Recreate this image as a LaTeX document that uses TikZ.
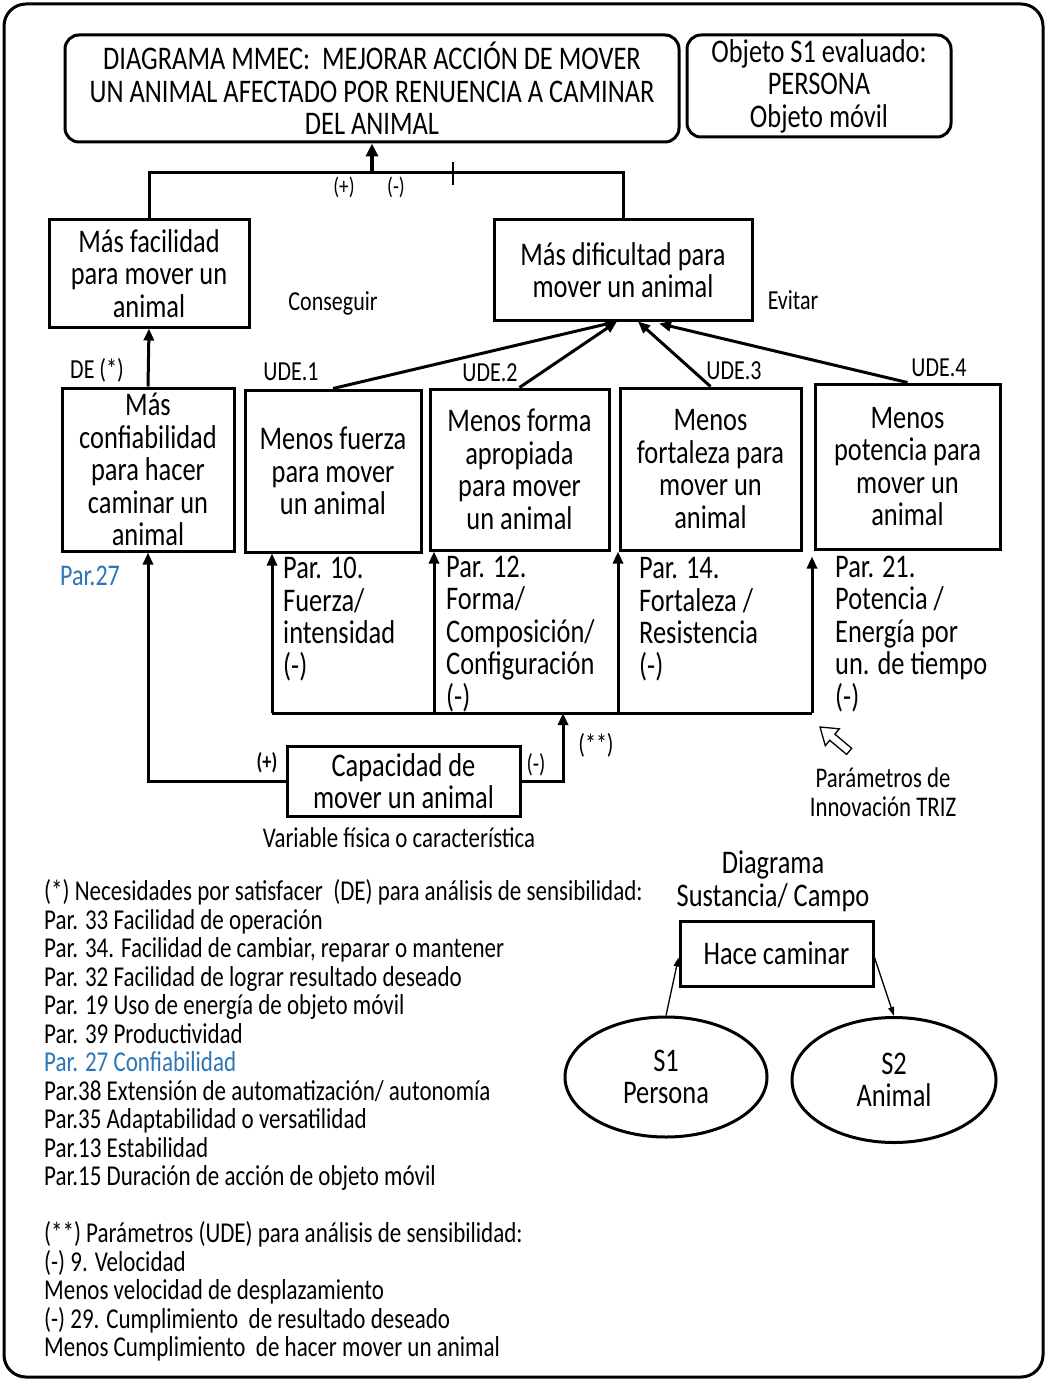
\documentclass[tikz,border=0pt]{standalone}
\usepackage{fontspec}
\setmainfont{Carlito}[FakeStretch=0.8]
\usetikzlibrary{arrows.meta, shapes.geometric, positioning}
\definecolor{color_azul}{RGB}{46,117,182}

\begin{document}
\begin{tikzpicture}[x=1pt, y=-1pt,
  caja/.style={draw, line width=3pt, align=center, inner sep=0pt,
    font=\fontsize{33}{32.5}\selectfont},
  cajaredonda/.style={caja, rounded corners=14pt},
  etiqueta/.style={inner sep=0pt, font=\fontsize{27.5}{28.5}\selectfont},
  signo/.style={inner sep=0pt, font=\fontsize{24}{24}\selectfont},
  parametro/.style={inner sep=0pt, align=left, anchor=west,
    font=\fontsize{33}{32.5}\selectfont},
  nota/.style={inner sep=0pt, align=left, anchor=west,
    font=\fontsize{28.75}{28.5}\selectfont},
  linea/.style={line width=3pt},
  flecha/.style={line width=3pt, -{Triangle[length=12pt,width=10pt]}},
  flechagruesa/.style={line width=4pt, -{Triangle[length=13pt,width=12pt]}},
  flechafina/.style={line width=1.3pt, -{Triangle[length=9pt,width=6pt]}}]

  \useasboundingbox[fill=white] (0,0) rectangle (1047,1380);
  \draw[line width=3pt, rounded corners=22pt] (4,4) rectangle (1043,1377);

  % OBJETIVO
  \node[cajaredonda, minimum width=614pt, minimum height=107pt] (titulo) at (372,88.5)
    {DIAGRAMA MMEC:~ MEJORAR ACCIÓN DE MOVER\\UN ANIMAL AFECTADO POR RENUENCIA A CAMINAR\\DEL ANIMAL};
  \node[cajaredonda, minimum width=264pt, minimum height=102pt] (objeto) at (819,86)
    {Objeto S1 evaluado:\\PERSONA\\Objeto móvil};

  % CONSEGUIR / EVITAR
  \node[caja, minimum width=200pt, minimum height=107pt] (facil) at (149,273.5)
    {Más facilidad\\para mover un\\animal};
  \node[caja, minimum width=258pt, minimum height=100pt] (dificil) at (623,270)
    {Más dificultad para\\mover un animal};
  \node[etiqueta] (conseguir) at (333,303) {Conseguir};
  \node[etiqueta] (evitar) at (793,300) {Evitar};

  \coordinate (union) at (372,173);
  \coordinate (marca) at (453,173);
  \draw[linea] (facil.north) |- (union) -| (dificil.north);
  \draw[flechagruesa] (union) -- (titulo.south);
  \draw[line width=1.2pt] ([yshift=11pt]marca) -- ([yshift=-12pt]marca);
  \node[signo] (mas) at (344,187) {(+)};
  \node[signo] (menos) at (396,187) {(-)};

  % DE Y UDE
  \node[caja, minimum width=172pt, minimum height=163pt] (conf) at (148,469.5)
    {Más\\confiabilidad\\para hacer\\caminar un\\animal};
  \node[caja, minimum width=176pt, minimum height=162pt] (fuerza) at (333,471)
    {Menos fuerza\\para mover\\un animal};
  \node[caja, minimum width=179pt, minimum height=161pt] (forma) at (519.5,469.5)
    {Menos forma\\apropiada\\para mover\\un animal};
  \node[caja, minimum width=181pt, minimum height=162pt] (fortaleza) at (710.5,469)
    {Menos\\fortaleza para\\mover un\\animal};
  \node[caja, minimum width=185pt, minimum height=165pt] (potencia) at (907.5,466.5)
    {Menos\\potencia para\\mover un\\animal};

  \node[etiqueta] (de) at (97,370) {DE (*)};
  \node[etiqueta] (ude1) at (291,372) {UDE.1};
  \node[etiqueta] (ude2) at (490,373) {UDE.2};
  \node[etiqueta] (ude3) at (734,371) {UDE.3};
  \node[etiqueta] (ude4) at (939,368) {UDE.4};
  \node[etiqueta, text=color_azul, font=\fontsize{30}{30}\selectfont] (par27) at (90,576) {Par.27};

  \draw[flecha] (conf.north) -- (facil.south);
  \draw[flecha] (fuerza.north) -- ([xshift=-6pt]dificil.south);
  \draw[flecha] (forma.north) -- ([xshift=-6pt]dificil.south);
  \draw[flecha] (fortaleza.north) -- ([xshift=15pt]dificil.south);
  \draw[flecha] (potencia.north) -- ([xshift=36pt,yshift=-2pt]dificil.south);

  % PARAMETROS TRIZ
  \node[parametro] (p10) at (283,619) {Par. 10.\\Fuerza/\\intensidad\\(-)};
  \node[parametro] (p12) at (446,634) {Par. 12.\\Forma/\\Composición/\\Configuración\\(-)};
  \node[parametro] (p14) at (639,619) {Par. 14.\\Fortaleza /\\Resistencia\\(-)};
  \node[parametro] (p21) at (835,634) {Par. 21.\\Potencia /\\Energía por\\un. de tiempo\\(-)};

  \coordinate (b1) at (272,713);
  \coordinate (b2) at (434,713);
  \coordinate (b3) at (618,713);
  \coordinate (b4) at (812,713);
  \coordinate (bm) at (563,713);
  \draw[linea] (b1) -- (b4);
  \draw[flecha] (b1) -- (b1 |- fuerza.south);
  \draw[flecha] (b2) -- (b2 |- forma.south);
  \draw[flecha] (b3) -- (b3 |- fortaleza.south);
  \draw[flecha] (b4) -- ([yshift=-6pt]b4 |- potencia.south);

  \draw[line width=1.3pt, fill=white] (820,727) -- (825.3,745.7) -- (829.7,740.3) -- (846.6,754.4)
    -- (851.7,748.3) -- (834.9,734.2) -- (839.3,728.8) -- cycle;
  \node[etiqueta, align=center, font=\fontsize{28.5}{28.5}\selectfont] (triz) at (883,792)
    {Parámetros de\\Innovación TRIZ};

  % VARIABLE
  \node[caja, minimum width=233pt, minimum height=70pt] (capac) at (403.5,781)
    {Capacidad de\\mover un animal};
  \node[etiqueta, font=\fontsize{28.6}{28.6}\selectfont] (variable) at (399,838) {Variable física o característica};
  \draw[flecha] (capac.west) -| (conf.south);
  \draw[flecha] (capac.east) -| (bm);
  \node[signo, font=\bfseries\fontsize{23}{23}\selectfont] (masc) at (267,763) {(+)};
  \node[signo, font=\fontsize{26}{26}\selectfont] (menosc) at (536,765) {(-)};
  \node[etiqueta] (dosast) at (596,745) {(**)};

  % NOTAS
  \node[nota] (notade) at (44,1035)
    {(*) Necesidades por satisfacer~ (DE) para análisis de sensibilidad:\\
     Par. 33 Facilidad de operación\\
     Par. 34. Facilidad de cambiar, reparar o mantener\\
     Par. 32 Facilidad de lograr resultado deseado\\
     Par. 19 Uso de energía de objeto móvil\\
     Par. 39 Productividad\\
     {\color{color_azul}Par. 27 Confiabilidad}\\
     Par.38 Extensión de automatización/ autonomía\\
     Par.35 Adaptabilidad o versatilidad\\
     Par.13 Estabilidad\\
     Par.15 Duración de acción de objeto móvil};
  \node[nota] (notaude) at (44,1291.5)
    {(**) Parámetros (UDE) para análisis de sensibilidad:\\
     (-) 9. Velocidad\\
     Menos velocidad de desplazamiento\\
     (-) 29. Cumplimiento~ de resultado deseado\\
     Menos Cumplimiento~ de hacer mover un animal};

  % SUSTANCIA / CAMPO
  \node[etiqueta, align=center, font=\fontsize{33}{33}\selectfont] (sc) at (773,881.5)
    {Diagrama\\Sustancia/ Campo};
  \node[caja, minimum width=193pt, minimum height=65pt] (hace) at (776.5,953.5) {Hace caminar};
  \node[caja, ellipse, minimum width=202pt, minimum height=120pt] (s1) at (666,1077) {S1\\Persona};
  \node[caja, ellipse, minimum width=204pt, minimum height=125pt] (s2) at (894,1080) {S2\\Animal};
  \draw[flechafina] (s1.north) -- ([yshift=-4pt]hace.west);
  \draw[flechafina] ([yshift=-4pt]hace.east) -- (s2.north);

\end{tikzpicture}
\end{document}
